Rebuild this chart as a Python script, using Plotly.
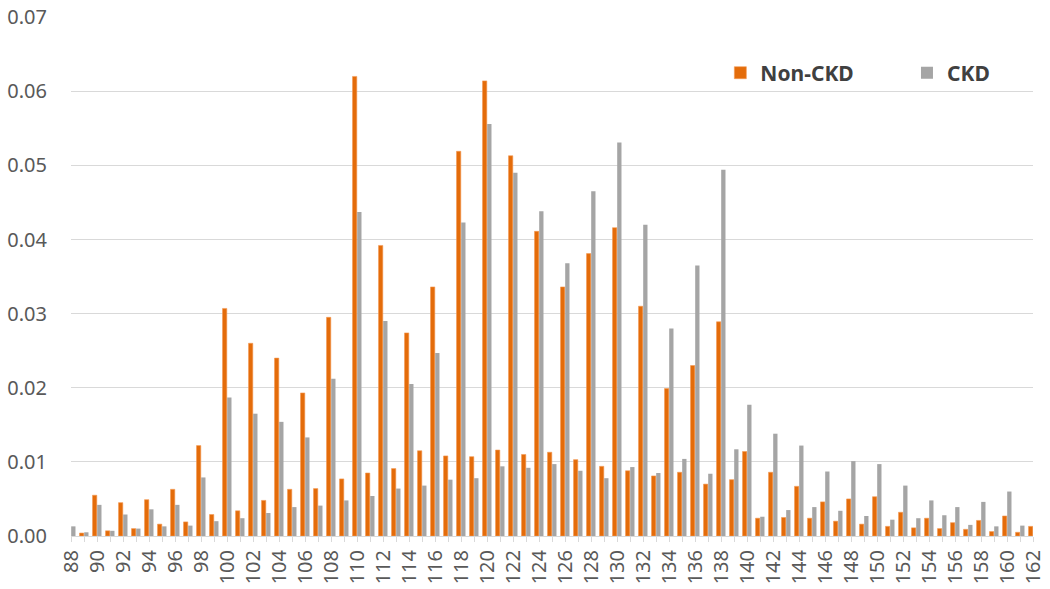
import plotly.graph_objects as go

# systolic blood pressure bins (mmHg)
BP = list(range(88, 163))

NON_CKD = [
    0.0000, 0.0004, 0.0055, 0.0007, 0.0045, 0.0010, 0.0049, 0.0016, 0.0063, 0.0019,  # 88-97
    0.0122, 0.0029, 0.0307, 0.0034, 0.0260, 0.0048, 0.0240, 0.0063, 0.0193, 0.0064,  # 98-107
    0.0295, 0.0077, 0.0620, 0.0085, 0.0392, 0.0091, 0.0274, 0.0115, 0.0336, 0.0108,  # 108-117
    0.0519, 0.0107, 0.0614, 0.0116, 0.0513, 0.0110, 0.0411, 0.0113, 0.0336, 0.0103,  # 118-127
    0.0381, 0.0094, 0.0416, 0.0088, 0.0310, 0.0081, 0.0199, 0.0086, 0.0230, 0.0070,  # 128-137
    0.0289, 0.0076, 0.0114, 0.0024, 0.0086, 0.0025, 0.0067, 0.0024, 0.0046, 0.0020,  # 138-147
    0.0050, 0.0016, 0.0053, 0.0013, 0.0032, 0.0011, 0.0024, 0.0010, 0.0018, 0.0009,  # 148-157
    0.0021, 0.0006, 0.0027, 0.0005, 0.0013,                                          # 158-162
]

CKD = [
    0.0013, 0.0005, 0.0042, 0.0007, 0.0029, 0.0010, 0.0036, 0.0013, 0.0042, 0.0014,
    0.0079, 0.0020, 0.0187, 0.0024, 0.0165, 0.0031, 0.0154, 0.0039, 0.0133, 0.0041,
    0.0212, 0.0048, 0.0437, 0.0054, 0.0290, 0.0064, 0.0205, 0.0068, 0.0247, 0.0076,
    0.0423, 0.0078, 0.0556, 0.0094, 0.0490, 0.0092, 0.0438, 0.0097, 0.0368, 0.0088,
    0.0465, 0.0078, 0.0531, 0.0093, 0.0420, 0.0085, 0.0280, 0.0104, 0.0365, 0.0084,
    0.0494, 0.0117, 0.0177, 0.0026, 0.0138, 0.0035, 0.0122, 0.0039, 0.0087, 0.0034,
    0.0101, 0.0027, 0.0097, 0.0022, 0.0068, 0.0024, 0.0048, 0.0028, 0.0039, 0.0015,
    0.0046, 0.0013, 0.0060, 0.0014, 0.0032,
]

TICK_TEXT = [str(v) if v % 2 == 0 else '' for v in BP]
Y_TICKS = [0.0, 0.01, 0.02, 0.03, 0.04, 0.05, 0.06, 0.07]

FONT = 'Noto Sans'
legend_font = dict(size=21, color='#404040', family=FONT, weight='bold')

fig = go.Figure()
fig.add_trace(go.Bar(x=BP, y=NON_CKD, name='Non-CKD', legend='legend', showlegend=True,
                     marker=dict(color='#E46C0A', line=dict(color='#F39A55', width=0.6))))
fig.add_trace(go.Bar(x=BP, y=CKD, name='CKD', legend='legend2', showlegend=True,
                     marker=dict(color='#A5A5A5', line=dict(width=0))))

fig.update_layout(
    width=1050, height=589,
    margin=dict(l=71, r=17, t=17, b=53),
    paper_bgcolor='white', plot_bgcolor='white',
    showlegend=True,
    barmode='group', bargap=0.28, bargroupgap=0.08,
    font=dict(family=FONT, color='#595959'),
    legend=dict(x=0.675, y=0.892, xanchor='left', yanchor='middle', visible=True,
                font=legend_font, bgcolor='rgba(0,0,0,0)'),
    legend2=dict(x=0.869, y=0.892, xanchor='left', yanchor='middle', visible=True,
                 font=legend_font, bgcolor='rgba(0,0,0,0)'),
    xaxis=dict(range=[88, 162], tickvals=BP, ticktext=TICK_TEXT, tickangle=-90,
               ticks='outside', ticklen=5, tickcolor='#D9D9D9',
               showline=True, linecolor='#D9D9D9', showgrid=False, automargin=False,
               tickfont=dict(size=20, color='#595959')),
    # tiny headroom so the 0.07 gridline is still drawn
    yaxis=dict(range=[0, 0.07002], tickvals=Y_TICKS, tickformat='.2f', automargin=False,
               gridcolor='#D9D9D9', zeroline=False,
               tickfont=dict(size=20, color='#595959'), ticklabelstandoff=23),
)

# drop the default 8px page margin so the figure fills the window exactly
fig.write_html("out.html", config={'displayModeBar': False},
               post_script="document.body.style.margin = '0';")
